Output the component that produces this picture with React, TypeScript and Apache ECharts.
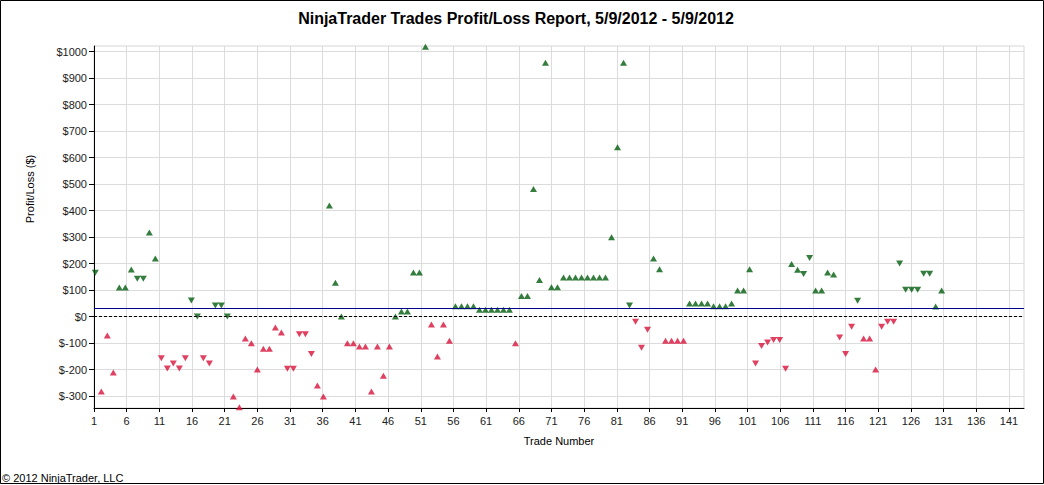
import React, { useEffect, useRef } from "react";
import * as echarts from "echarts";

// Profit/Loss per trade ($), in trade order
const tradeValues: number[] = [
  165, -283, -71, -211, 110, 110, 178, 143, 143, 317,
  219, -157, -196, -177, -196, -157, 61, 0, -157, -177,
  42, 42, 0, -302, -342, -83, -101, -200, -121, -121,
  -41, -60, -197, -197, -67, -67, -141, -260, -302, 419,
  128, 0, -101, -101, -113, -113, -283, -113, -223, -113,
  0, 19, 19, 166, 166, 1018, -30, -151, -30, -91,
  39, 39, 39, 39, 26, 26, 26, 26, 26, 26,
  -101, 78, 78, 481, 138, 958, 111, 111, 147, 147,
  147, 147, 147, 147, 147, 147, 299, 639, 958, 42,
  -20, -118, -50, 219, 179, -91, -91, -91, -91, 49,
  49, 49, 49, 39, 39, 39, 49, 98, 98, 179,
  -177, -111, -98, -88, -88, -197, 198, 177, 161, 221,
  98, 98, 166, 159, -79, -141, -38, 60, -83, -83,
  -200, -38, -20, -20, 200, 101, 101, 101, 162, 162,
  38, 98,
];

// Trade side: "L" = long (up triangle), "S" = short (down triangle)
const tradeSides: string[] = [
  "S", "L", "L", "L", "L", "L", "L", "S", "S", "L",
  "L", "S", "S", "S", "S", "S", "S", "S", "S", "S",
  "S", "S", "S", "L", "L", "L", "L", "L", "L", "L",
  "L", "L", "S", "S", "S", "S", "S", "L", "L", "L",
  "L", "L", "L", "L", "L", "L", "L", "L", "L", "L",
  "L", "L", "L", "L", "L", "L", "L", "L", "L", "L",
  "L", "L", "L", "L", "L", "L", "L", "L", "L", "L",
  "L", "L", "L", "L", "L", "L", "L", "L", "L", "L",
  "L", "L", "L", "L", "L", "L", "L", "L", "L", "S",
  "S", "S", "S", "L", "L", "L", "L", "L", "L", "L",
  "L", "L", "L", "L", "L", "L", "L", "L", "L", "L",
  "S", "S", "S", "S", "S", "S", "L", "L", "S", "S",
  "L", "L", "L", "L", "S", "S", "S", "S", "L", "L",
  "L", "S", "S", "S", "S", "S", "S", "S", "S", "S",
  "L", "L",
];

const xTickValues: number[] = [1, 6, 11, 16, 21, 26, 31, 36, 41, 46, 51, 56, 61, 66, 71, 76, 81, 86, 91, 96, 101, 106, 111, 116, 121, 126, 131, 136, 141];
const yTickValues: number[] = [-300, -200, -100, 0, 100, 200, 300, 400, 500, 600, 700, 800, 900, 1000];

const TITLE = "NinjaTrader Trades Profit/Loss Report, 5/9/2012 - 5/9/2012";
const FONT = '"Liberation Sans", Arial, sans-serif';
const GREEN = "#035c0e";
const RED = "#d8123a";

export default function App() {
  const ref = useRef<HTMLDivElement>(null);

  useEffect(() => {
    document.body.style.margin = "0";
    const chart = echarts.init(ref.current!, null, { renderer: "svg" });

    const points = tradeValues.map((v, i) => ({
      value: [i + 1, v],
      symbolRotate: tradeSides[i] === "S" ? 180 : 0,
      itemStyle: { color: v >= 0 ? GREEN : RED },
    }));

    chart.setOption({
      animation: false,
      backgroundColor: "#ffffff",
      textStyle: { fontFamily: FONT },
      grid: {
        left: 94,
        right: 20,
        top: 46,
        bottom: 77,
        show: true,
        borderColor: "#d6d6d6",
        borderWidth: 1,
        backgroundColor: "#ffffff",
      },
      xAxis: [
        {
          type: "value",
          min: 1,
          max: 143.3,
          position: "bottom",
          name: "Trade Number",
          nameLocation: "middle",
          nameGap: 27,
          nameTextStyle: { fontSize: 11, color: "#000", fontFamily: FONT },
          axisLine: { show: true, onZero: false, lineStyle: { color: "#000", width: 1 } },
          axisTick: { show: true, length: 4, customValues: xTickValues, lineStyle: { color: "#000" } },
          axisLabel: {
            customValues: xTickValues,
            fontSize: 11,
            color: "#222",
            margin: 7,
            fontFamily: FONT,
          },
          splitLine: { show: true, lineStyle: { color: "#dcdcdc", width: 1 } },
        },
        {
          type: "value",
          min: 0.783,
          max: 155.72,
          show: false,
        },
      ],
      yAxis: {
        type: "value",
        min: -345,
        max: 1021,
        axisLine: { show: true, onZero: false, lineStyle: { color: "#000", width: 1 } },
        axisTick: { show: true, length: 5, customValues: yTickValues, lineStyle: { color: "#000" } },
        axisLabel: {
          customValues: yTickValues,
          formatter: (v: number) => "$" + v,
          fontSize: 11,
          color: "#222",
          margin: 7,
          fontFamily: FONT,
        },
        splitLine: { show: true, lineStyle: { color: "#dcdcdc", width: 1 } },
      },
      series: [
        {
          type: "scatter",
          xAxisIndex: 1,
          yAxisIndex: 0,
          symbol: "triangle",
          symbolSize: [7, 6],
          data: points,
          silent: true,
          markLine: {
            silent: true,
            symbol: ["none", "none"],
            label: { show: false },
            emphasis: { disabled: true },
            data: [
              { yAxis: 0, lineStyle: { color: "#000", type: [3, 2], width: 1 } },
              { type: "average", valueDim: "y", lineStyle: { color: "#00008b", type: "solid", width: 1 } },
            ],
          },
        },
      ],
      graphic: [
        {
          type: "rect",
          silent: true,
          z: 100,
          shape: { x: 0.5, y: 0.5, width: 1043, height: 483 },
          style: { fill: "none", stroke: "#000", lineWidth: 1 },
        },
        {
          type: "text",
          x: 516,
          y: 18,
          style: {
            text: TITLE,
            font: "bold 16px " + FONT,
            fill: "#000",
            align: "center",
            verticalAlign: "middle",
          },
        },
        {
          type: "text",
          x: 30,
          y: 189,
          rotation: Math.PI / 2,
          style: {
            text: "Profit/Loss ($)",
            font: "11px " + FONT,
            fill: "#000",
            align: "center",
            verticalAlign: "middle",
          },
        },
        {
          type: "text",
          x: 2,
          y: 478,
          style: {
            text: "\u00a9 2012 NinjaTrader, LLC",
            font: "11px " + FONT,
            fill: "#000",
            align: "left",
            verticalAlign: "middle",
          },
        },
      ],
    });

    return () => chart.dispose();
  }, []);

  return <div ref={ref} style={{ width: 1044, height: 485 }} />;
}
